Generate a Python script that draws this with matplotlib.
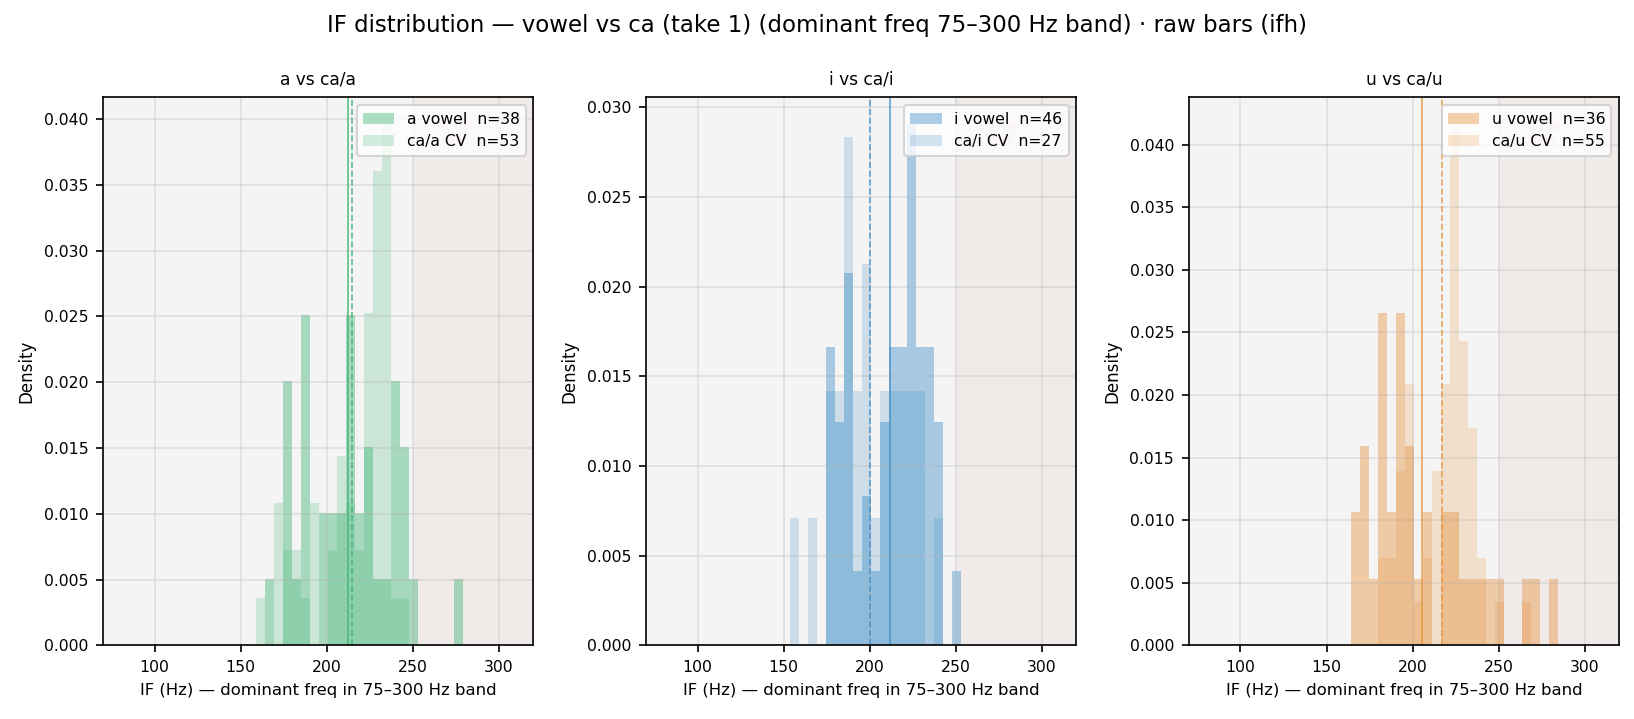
import numpy as np
import matplotlib
matplotlib.use("Agg")
import matplotlib.pyplot as plt

# shared bins: 43 bins across the 75-300 Hz band
bin_edges = np.linspace(75, 300, 44)

# counts per bin (bin 0 .. 42)
a_vowel = [0,0,0,0,0, 0,0,0,0,0, 0,0,0,0,0, 0,0,1,0,4, 1,5,0,2,2, 2,5,2,3,1, 1,4,3,1,0, 0,0,0,1,0, 0,0,0]
a_cv    = [0,0,0,0,0, 0,0,0,0,0, 0,0,0,0,0, 0,1,0,3,2, 2,1,3,0,2, 4,3,2,7,10, 11,1,1,0,0, 0,0,0,0,0, 0,0,0]
i_vowel = [0,0,0,0,0, 0,0,0,0,0, 0,0,0,0,0, 0,0,0,0,4, 3,5,1,2,1, 3,4,4,7,4, 4,3,0,1,0, 0,0,0,0,0, 0,0,0]
i_cv    = [0,0,0,0,0, 0,0,0,0,0, 0,0,0,0,0, 1,0,1,0,2, 2,4,2,3,1, 2,2,2,2,2, 0,1,0,0,0, 0,0,0,0,0, 0,0,0]
u_vowel = [0,0,0,0,0, 0,0,0,0,0, 0,0,0,0,0, 0,0,2,3,1, 5,2,5,3,1, 2,0,2,2,1, 1,1,1,1,0, 0,1,1,0,1, 0,0,0]
u_cv    = [0,0,0,0,0, 0,0,0,0,0, 0,0,0,0,0, 0,0,0,0,0, 2,2,4,6,1, 2,4,6,12,7, 5,2,0,1,0, 0,1,0,0,0, 0,0,0]

# medians (Hz): vowel, CV
a_medians = [212.5, 214.5]
i_medians = [211.8, 200.1]
u_medians = [205.2, 216.9]

vowels = ["a", "i", "u"]
colors = ["#3cb371", "#3e8dc6", "#e7913a"]

plt.rcParams['font.family'] = ['DejaVu Sans']

fig, axes = plt.subplots(1, 3, figsize=(1634 / 150, 719 / 150), dpi=150)
fig.subplots_adjust(left=0.063, right=0.991, bottom=0.1025, top=0.8644, wspace=0.261)

centers = (bin_edges[:-1] + bin_edges[1:]) / 2
panels = [(a_vowel, a_cv, a_medians), (i_vowel, i_cv, i_medians), (u_vowel, u_cv, u_medians)]

for ax, v, col, (vc, cc, med) in zip(axes, vowels, colors, panels):
    ax.set_facecolor("#f4f4f4")
    ax.axvspan(250, 320, color=(0.78, 0.45, 0.40), alpha=0.07, lw=0, zorder=0)
    ax.text(275, 0.955, "F1 risk\nzone", transform=ax.get_xaxis_transform(),
            ha="center", va="top", fontsize=5.5, color="red", alpha=0.25)
    ax.hist(centers, bins=bin_edges, weights=vc, density=True, color=col, alpha=0.42,
            label=f"{v} vowel  n={sum(vc)}")
    ax.hist(centers, bins=bin_edges, weights=cc, density=True, color=col, alpha=0.22,
            label=f"ca/{v} CV  n={sum(cc)}")
    ax.axvline(med[0], color=col, lw=0.8, alpha=0.8)
    ax.axvline(med[1], color=col, lw=0.8, alpha=0.8, ls="--")
    ax.set_xlim(70, 320)
    ax.grid(True, alpha=0.3)
    ax.set_title(f"{v} vs ca/{v}", fontsize=8.2)
    ax.set_xlabel("IF (Hz) — dominant freq in 75–300 Hz band", fontsize=7.9)
    ax.set_ylabel("Density", fontsize=8)
    ax.tick_params(labelsize=7.5)
    ax.legend(loc="upper right", fontsize=7.5)

fig.suptitle("IF distribution — vowel vs ca (take 1) (dominant freq 75–300 Hz band) · raw bars (ifh)",
             fontsize=11, y=0.964, va="center")

fig.savefig("out.png", dpi=150)
